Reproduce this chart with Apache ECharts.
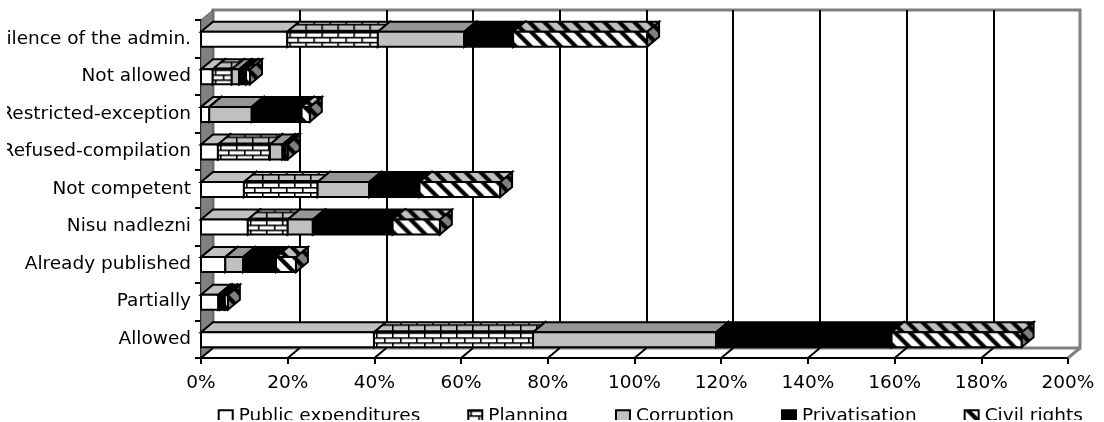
<!DOCTYPE html>
<html>
<head>
<meta charset="utf-8">
<title>Chart</title>
<script src="https://cdnjs.cloudflare.com/ajax/libs/echarts/6.0.0/echarts.min.js"></script>
<style>
    html, body { margin: 0; padding: 0; background: #fff; overflow: hidden; }
    #container { position: absolute; left: 7px; top: 0; width: 1097px; height: 420px; }
</style>
</head>
<body>
<div id="container"></div>
<script>
    var categories = ['Allowed', 'Partially', 'Already published', 'Nisu nadlezni', 'Not competent',
        'Refused-compilation', 'Restricted-exception', 'Not allowed', 'Silence of the admin.'];
    var publicExpenditures = [39.9, 4.0, 5.6, 10.8, 9.9, 3.9, 1.9, 2.7, 19.9];
    var planning = [36.7, 0, 0, 9.2, 17.0, 12.0, 0, 4.4, 20.9];
    var corruption = [42.2, 0.4, 4.1, 5.8, 11.9, 2.9, 9.8, 1.7, 19.9];
    var privatisation = [40.5, 1.1, 7.6, 18.4, 11.6, 0.7, 11.5, 1.6, 11.3];
    var civilRights = [30.0, 0.7, 4.6, 10.9, 18.6, 0.5, 1.9, 0.9, 30.9];
    var seriesNames = ['Public expenditures', 'Planning', 'Corruption', 'Privatisation', 'Civil rights'];
    var xTicks = [0, 20, 40, 60, 80, 100, 120, 140, 160, 180, 200];

    var FONT = '"DejaVu Sans", sans-serif';
    var FONT_SIZE = 18.5;
    var DX = 12, DY = 10, BAR_H = 15;

    function plainTile(bg) {
        var c = document.createElement('canvas');
        c.width = c.height = 4;
        var g = c.getContext('2d');
        g.fillStyle = bg;
        g.fillRect(0, 0, 4, 4);
        return c;
    }
    function brickTile(bg, rowH) {
        var w = 16, c = document.createElement('canvas');
        c.width = w; c.height = rowH * 2;
        var g = c.getContext('2d');
        g.fillStyle = bg;
        g.fillRect(0, 0, w, rowH * 2);
        g.fillStyle = '#000';
        g.fillRect(0, 0, w, 1.6);
        g.fillRect(0, rowH, w, 1.6);
        g.fillRect(2, 0, 1.6, rowH);
        g.fillRect(10, rowH, 1.6, rowH);
        return c;
    }
    function stripeTile(bg) {
        var s = 15, c = document.createElement('canvas');
        c.width = c.height = s;
        var g = c.getContext('2d');
        g.fillStyle = bg;
        g.fillRect(0, 0, s, s);
        g.fillStyle = '#000';
        [-s, 0, s].forEach(function (o) {
            g.beginPath();
            g.moveTo(o, 0); g.lineTo(o + 6, 0); g.lineTo(o + s + 6, s); g.lineTo(o + s, s);
            g.closePath();
            g.fill();
        });
        return c;
    }

    // front / top / side face of each series
    var faces = [
        { front: plainTile('#ffffff'), top: plainTile('#c0c0c0'), side: plainTile('#808080') },
        { front: brickTile('#ffffff', 5), top: brickTile('#c0c0c0', 6), side: brickTile('#808080', 5) },
        { front: plainTile('#c0c0c0'), top: plainTile('#969696'), side: plainTile('#606060') },
        { front: plainTile('#000000'), top: plainTile('#000000'), side: plainTile('#000000') },
        { front: stripeTile('#ffffff'), top: stripeTile('#c0c0c0'), side: stripeTile('#808080') }
    ];
    var seriesValues = [publicExpenditures, planning, corruption, privatisation, civilRights];

    function pat(tile, x, y) {
        return { image: tile, repeat: 'repeat', x: x, y: y };
    }

    function barRenderer(f) {
        return function (params, api) {
            var a = api.coord([api.value(0), api.value(1)]);
            var b = api.coord([api.value(2), api.value(1)]);
            var x0 = a[0], x1 = b[0], y0 = a[1] + 0.5 - BAR_H / 2, y1 = y0 + BAR_H;
            var line = { stroke: '#000', lineWidth: 2, lineJoin: 'miter' };
            return {
                type: 'group',
                children: [
                    { type: 'polygon', shape: { points: [[x1, y0], [x1 + DX, y0 - DY], [x1 + DX, y1 - DY], [x1, y1]] },
                      style: Object.assign({ fill: pat(f.side, x1, y0 - DY) }, line) },
                    { type: 'polygon', shape: { points: [[x0, y0], [x0 + DX, y0 - DY], [x1 + DX, y0 - DY], [x1, y0]] },
                      style: Object.assign({ fill: pat(f.top, x0, y0 - DY + 2) }, line) },
                    { type: 'rect', shape: { x: x0, y: y0, width: x1 - x0, height: BAR_H },
                      style: Object.assign({ fill: pat(f.front, x0, y0) }, line) }
                ]
            };
        };
    }

    function frameRenderer(params, api) {
        var cs = params.coordSys;
        var x = api.coord([api.value(0), 0])[0];
        var bottom = cs.y + cs.height;
        var last = params.dataIndex === xTicks.length - 1;
        var kids = [];
        if (params.dataIndex === 0) {
            kids.push({ type: 'polygon',
                shape: { points: [[cs.x, cs.y], [cs.x + DX, cs.y - DY], [cs.x + DX, bottom - DY], [cs.x, bottom]] },
                style: { fill: '#808080', stroke: '#555', lineWidth: 1 } });
        }
        kids.push({ type: 'line', shape: { x1: x, y1: bottom, x2: x + DX, y2: bottom - DY },
            style: { stroke: last ? '#808080' : '#000', lineWidth: last ? 3 : 2 } });
        return { type: 'group', children: kids };
    }

    var series = [{
        name: 'frame',
        type: 'custom',
        xAxisIndex: 0,
        yAxisIndex: 0,
        clip: false,
        silent: true,
        renderItem: frameRenderer,
        encode: { x: 0, y: 1 },
        data: xTicks.map(function (t) { return [t, 0]; })
    }];

    var running = categories.map(function () { return 0; });
    seriesNames.forEach(function (name, i) {
        var rows = [];
        seriesValues[i].forEach(function (v, c) {
            if (v > 0) rows.push([running[c], c, running[c] + v]);
            running[c] += v;
        });
        series.push({
            name: name,
            type: 'custom',
            xAxisIndex: 0,
            yAxisIndex: 0,
            clip: false,
            renderItem: barRenderer(faces[i]),
            encode: { x: [0, 2], y: 1 },
            itemStyle: { color: { image: faces[i].front, repeat: 'repeat' }, borderColor: '#000', borderWidth: 2 },
            data: rows
        });
    });

    var dom = document.getElementById('container');
    var myChart = echarts.init(dom, null, { renderer: 'canvas' });
    var option = {
        animation: false,
        textStyle: { fontFamily: FONT },
        legend: {
            data: seriesNames,
            left: 210.7,
            top: 406.7,
            padding: 0,
            itemWidth: 14,
            itemHeight: 12,
            itemGap: 47,
            icon: 'rect',
            textStyle: { fontFamily: FONT, fontSize: FONT_SIZE, color: '#000', padding: [3, 0, 0, 1] }
        },
        grid: [
            { left: 194, right: 36, top: 20, bottom: 62, outerBoundsMode: 'none' },
            { left: 206, right: 24, top: 10, bottom: 72, outerBoundsMode: 'none', show: true, backgroundColor: '#fff', borderColor: '#808080', borderWidth: 3 }
        ],
        xAxis: [
            {
                type: 'value', gridIndex: 0, min: 0, max: 200, interval: 20,
                axisLine: { show: true, onZero: false, lineStyle: { color: '#000', width: 2 } },
                axisTick: { show: true, length: 6, lineStyle: { color: '#000', width: 2 } },
                axisLabel: { formatter: '{value}%', fontFamily: FONT, fontSize: FONT_SIZE, color: '#000', margin: 16 },
                splitLine: { show: false }
            },
            {
                type: 'value', gridIndex: 1, min: 0, max: 200, interval: 20,
                axisLine: { show: false }, axisTick: { show: false }, axisLabel: { show: false },
                splitLine: { show: true, showMinLine: false, showMaxLine: false, lineStyle: { color: '#000', width: 2 } }
            }
        ],
        yAxis: [
            {
                type: 'category', gridIndex: 0, data: categories,
                axisLine: { show: true, onZero: false, lineStyle: { color: '#000', width: 2 } },
                axisTick: { show: true, length: 6, lineStyle: { color: '#000', width: 2 } },
                axisLabel: { fontFamily: FONT, fontSize: FONT_SIZE, color: '#000', margin: 10, interval: 0, hideOverlap: false, padding: [3, 0, 0, 0] },
                splitLine: { show: false }
            },
            {
                type: 'category', gridIndex: 1, data: categories, show: false
            }
        ],
        series: series
    };
    myChart.setOption(option, true);
</script>
</body>
</html>
